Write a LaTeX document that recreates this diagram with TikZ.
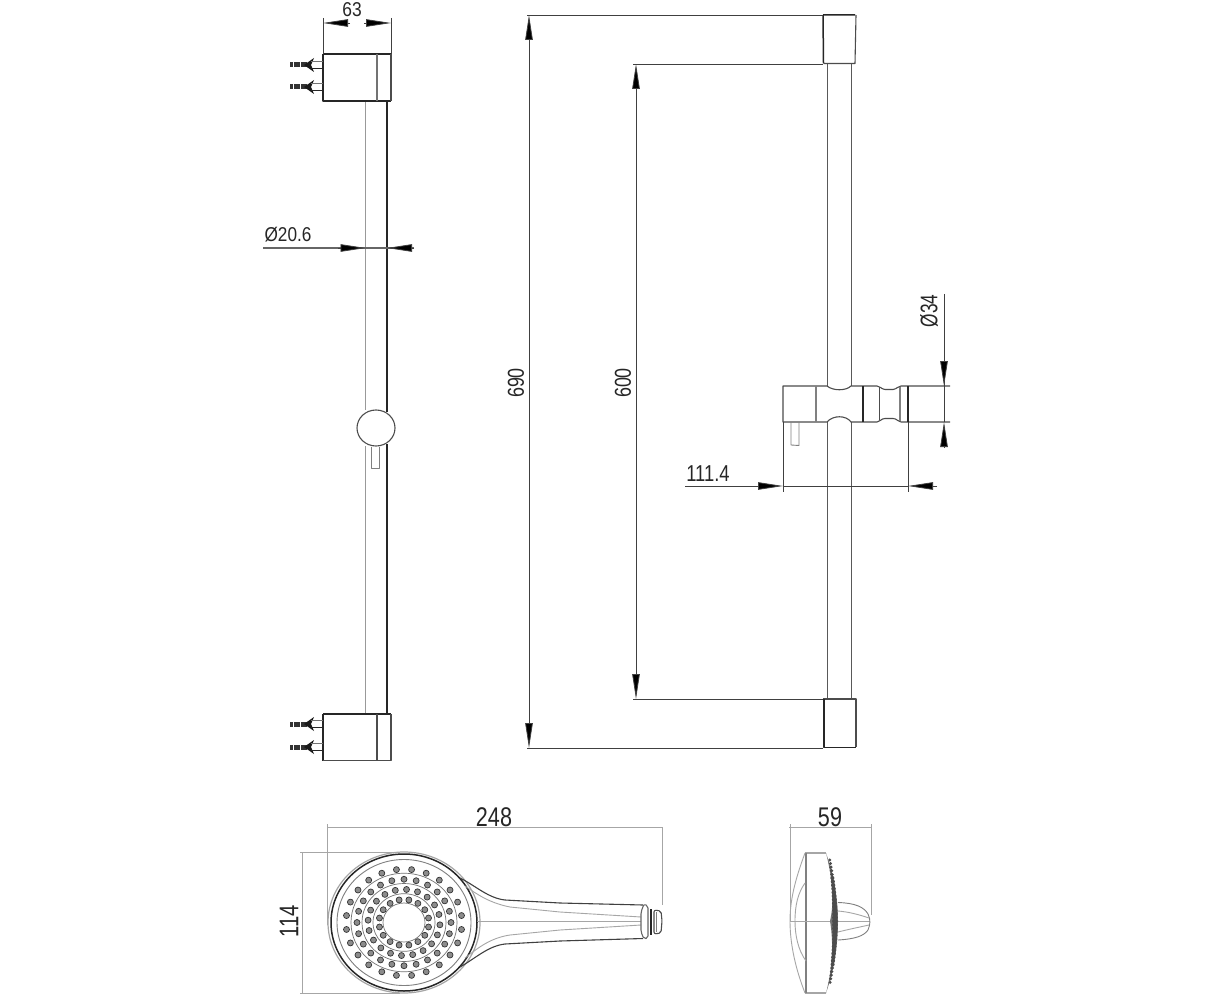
\documentclass[tikz,border=0pt]{standalone}
\usepackage{fontspec}
\setmainfont{Liberation Sans}
\usetikzlibrary{arrows.meta,calc}
\tikzset{
  x=1pt,y=-1pt,
  every path/.style={line join=round},
  heavy/.style={draw=black!85,line width=1.5pt},
  mid/.style={draw=black!70,line width=1.1pt},
  thin line/.style={draw=black!50,line width=.9pt},
  faint/.style={draw=black!35,line width=.9pt},
  dimline/.style={draw=black!75,line width=.8pt},
  bigtip/.tip={Triangle[length=25pt,width=7.5pt,fill=black]},
  dimtip/.style={dimline,-bigtip},
  lab/.style={inner sep=0pt,text=black!85},
  hole/.style={draw=black!80,fill=black!45,line width=.7pt},
}
\newcommand{\sizedfont}[1]{\fontsize{#1}{#1}\selectfont}
\begin{document}
\begin{tikzpicture}
\useasboundingbox (0,0) rectangle (1223,1000);
\fill[white] (0,0) rectangle (1223,1000);

% ---------- left view: rail
\draw[draw=black!40,line width=1.6pt] (365.500,101) -- (365.500,410) (365.500,446) -- (365.500,714);
\draw[heavy,line width=1.1pt] (387,101) -- (387,412) (387,444) -- (387,714);
% top bracket
\draw[heavy] (323,54) -- (391,54);
\draw[heavy] (323,54) -- (323,101) -- (391,101);
\draw[mid] (391,54) -- (391,101);
\draw[mid,draw=black!55] (377,54) -- (377,101);
% bottom bracket
\draw[heavy] (323,714) -- (391,714);
\draw[heavy] (323,714) -- (323,760.5);
\draw[mid] (323,760.5) -- (391,760.5) -- (391,714);
\draw[mid] (377,714) -- (377,760.5);
% slider
\draw[mid] (376,428) ellipse (19 and 18);
\draw[thin line] (371.500,447) -- (371.500,468) -- (379,468) -- (379,447);
% wall anchors
\foreach \yy in {65,87,724,747}{
  \draw[black!80,line width=5pt,dash pattern=on 3pt off .6pt] (290,\yy) -- (308,\yy);
  \fill[black!90] (304,\yy) -- (314,\yy-7) -- (311,\yy) -- (314,\yy+7) -- cycle;
  \draw[black!55,line width=1pt] (311,\yy-3.500) -- (323,\yy-3.500);
  \draw[black!85,line width=1pt] (311,\yy+3.500) -- (323,\yy+3.500);
}
% dimension 63
\coordinate (d63a) at (323,23); \coordinate (d63b) at (391,23);
\draw[dimline] (323,18) -- (323,54) (391,18) -- (391,54);
\draw[dimtip] (350,23) -- (d63a);
\draw[dimtip] (364,23) -- (d63b);
\node[lab,font=\sizedfont{20},xscale=.87] (t63) at (352,10) {63};
% dimension dia 20.6
\coordinate (d206a) at (365.500,248); \coordinate (d206b) at (387,248);
\draw[dimline,draw=black!60,line width=1.2pt] (263,248) -- (414,248);
\draw[dimtip] (338,248) -- (d206a);
\draw[dimtip] (414,248) -- (d206b);
\node[lab,font=\sizedfont{20},xscale=.86] (t206) at (288,235) {Ø20.6};

% ---------- right view: rail
\draw[mid,draw=black!65,line width=1pt] (827,64) -- (827,386) (827,422) -- (827,699);
\draw[mid,draw=black!65,line width=1pt] (851,64) -- (851,386) (851,422) -- (851,699);
% brackets
\draw[heavy] (823,15) -- (855,15) (823,15) -- (823.500,63.500);
\draw[mid] (856,15) -- (855,63.500) -- (823.500,63.500);
\draw[mid] (823,699) -- (856,699) -- (856,747);
\draw[heavy] (824,699) -- (824,747.500) -- (856,747.500);
% clamp
\draw[mid] (950,386) -- (908,386) -- (901,386) .. controls (898,386) and (897,389) .. (893,389.500)
  -- (885,389.500) .. controls (881,389) and (880,386) .. (877,386) -- (851,386)
  .. controls (846,391) and (833,391) .. (827,386) -- (783,386) -- (783,422) -- (827,422)
  .. controls (833,415) and (846,415) .. (851,422) -- (877,422)
  .. controls (880,422) and (881,418.500) .. (885,418.500) -- (893,418.500)
  .. controls (897,418.500) and (898,422) .. (901,422) -- (950,422);
\draw[thin line,line width=1.3pt] (816,386) -- (816,422);
\draw[heavy] (863,386) -- (863,422);
\draw[mid] (879.500,387) -- (879.500,420);
\draw[thin line,line width=1.3pt] (900,387) -- (900,421);
\draw[heavy] (908,386) -- (908,422);
\draw[thin line] (791,422) -- (791,445) -- (799,445.500) -- (799,422);
% long dimensions
\coordinate (t690) at (529,15); \coordinate (b690) at (529,748);
\coordinate (t600) at (636,64); \coordinate (b600) at (636,699);
\draw[dimline] (527,15) -- (823,15) (527,748) -- (823,748);
\draw[dimline] (633,64) -- (823,64) (633,699) -- (823,699);
\draw[dimline,bigtip-bigtip] (t690) -- (b690);
\draw[dimline,bigtip-bigtip] (t600) -- (b600);
\node[lab,rotate=90,font=\sizedfont{23},xscale=.78] (l690) at (516,383) {690};
\node[lab,rotate=90,font=\sizedfont{23},xscale=.78] (l600) at (623,383) {600};
% dimension dia 34
\coordinate (a34) at (944,386); \coordinate (b34) at (944,422);
\draw[dimline] (944,294) -- (a34) -- (b34);
\draw[dimtip] (944,360) -- (a34);
\draw[dimtip] (944,447) -- (b34);
\node[lab,rotate=90,font=\sizedfont{24},xscale=.72] (l34) at (929,311) {Ø34};
% dimension 111.4
\coordinate (a111) at (783,486); \coordinate (b111) at (908,486);
\draw[dimline] (783,422) -- (783,492) (908,422) -- (908,492);
\draw[dimline] (a111) -- (b111);
\draw[dimtip] (685,486) -- (a111);
\draw[dimtip] (937,486) -- (b111);
\node[lab,font=\sizedfont{23},xscale=.8] (l111) at (708,474) {111.4};

% ---------- hand shower, front
\draw[faint] (327,827) -- (662,827);
\draw[faint] (327,824) -- (327,925);
\draw[faint] (662,827) -- (662,905);
\draw[faint] (300,852) -- (400,852);
\draw[faint] (300,993) -- (400,993);
\draw[faint] (302,852) -- (302,993);
\node[lab,font=\sizedfont{27},xscale=.8] (l248) at (494,817) {248};
\node[lab,rotate=90,font=\sizedfont{27},xscale=.75] (l114) at (289,921) {114};
% head
\draw[faint,line width=1.2pt] (404,922.500) ellipse (76 and 70.500);
\draw[heavy] (404,922.500) ellipse (73 and 68.500);
\draw[thin line] (404,922.500) ellipse (67 and 63);
% hole rings
\draw[draw=black!55,line width=.7pt] (404,922.500) ellipse (53 and 49.300);
\draw[draw=black!55,line width=.7pt] (404,922.500) ellipse (42 and 39);
\draw[draw=black!55,line width=.7pt] (404,922.500) ellipse (31 and 28.800);
\draw[draw=black!55,line width=.7pt] (404,922.500) ellipse (21 and 19.500);
\foreach \rr/\nn/\off in {58/24/7.5,47/24/0,36/20/4,25/16/11.25}{
  \pgfmathsetmacro{\stp}{360/\nn}
  \foreach \ii in {1,...,\nn}{
    \pgfmathsetmacro{\ang}{\off+\ii*\stp}
    \fill[hole] ({404+\rr*cos(\ang)},{922.5+.92*\rr*sin(\ang)}) circle (3);
  }
}
% handle
\draw[draw=black!75,line width=1.1pt] (460,878) .. controls (476,886) and (488,898) .. (505,900)
  -- (560,903) -- (643,905);
\draw[draw=black!75,line width=1.1pt] (460,967) .. controls (476,958) and (488,946) .. (505,944)
  -- (560,941) -- (643,938.500);
\draw[faint] (465,886) .. controls (478,895) and (490,903) .. (510,907) -- (560,912) -- (641,917);
\draw[faint] (465,958) .. controls (478,948) and (490,938) .. (510,935) -- (560,930) -- (641,925);
\draw[faint] (477,921) -- (641,921);
% nozzle
\draw[mid,draw=black!60,rounded corners=2pt] (644,904) -- (648,906) -- (648,938) -- (644,939) -- (641,932) -- (641,912) -- cycle;
\draw[heavy,line width=1.6pt] (651,909) -- (651,935);
\draw[mid,rounded corners=2pt] (654,910) -- (661,911) -- (662,921) -- (661,933) -- (654,934) -- cycle;
\draw[thin line] (656,912) -- (656,932);

% ---------- hand shower, side
\draw[faint] (789,827) -- (871,827);
\draw[faint] (790,824) -- (790,921);
\draw[faint] (871,824) -- (871,915);
\node[lab,font=\sizedfont{27},xscale=.8] (l59) at (830,817) {59};
\draw[faint,line width=1.1pt] (805,853) -- (826,853) (826,993) -- (805,993);
\draw[thin line,line width=1.2pt] (806,853) -- (806,993);
\draw[faint] (805,853) .. controls (795,880) and (790,900) .. (790,921) .. controls (790,945) and (796,970) .. (805,993);
\draw[faint] (805,883) .. controls (798,893) and (795,905) .. (795,921) .. controls (795,935) and (798,950) .. (806,961);
\draw[faint] (790,921) -- (870,921);
% nozzle stub
\draw[thin line] (838,902.500) .. controls (855,903) and (864,907) .. (868,914) .. controls (871,920) and (870,925) .. (868,930) .. controls (864,936) and (855,939) .. (838,940);
\draw[faint] (838,911) .. controls (850,912) and (860,915) .. (869,918);
\draw[faint] (838,932) .. controls (850,929) and (860,927) .. (869,925);
% holes seen from the side
\fill[black!55] (826,853) .. controls (833,880) and (834,905) .. (830,921) .. controls (834,945) and (832,970) .. (826,993)
  .. controls (834,970) and (838,945) .. (838,921) .. controls (838,900) and (834,875) .. (826,853) -- cycle;
\foreach \ii in {0,...,34}{
  \pgfmathsetmacro{\yy}{860+\ii*3.6}
  \pgfmathsetmacro{\xx}{828+7*(1-((\yy-922)/72)^2)}
  \pgfmathsetmacro{\rad}{1.4+1.6*(1-abs(\yy-922)/72)}
  \fill[black!70] (\xx,\yy) circle (\rad);
}
\end{tikzpicture}
\end{document}
